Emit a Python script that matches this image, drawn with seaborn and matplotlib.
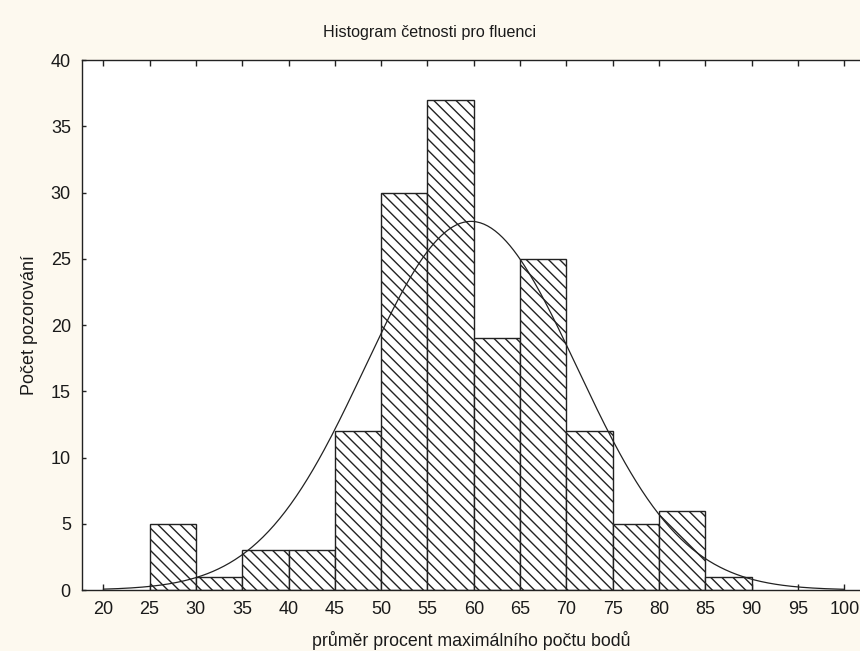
import numpy as np
import pandas as pd
import matplotlib
matplotlib.use("Agg")
import matplotlib.pyplot as plt
import seaborn as sns

# ---- data ----
bin_left = [25, 30, 35, 40, 45, 50, 55, 60, 65, 70, 75, 80, 85]
counts = [5, 1, 3, 3, 12, 30, 37, 19, 25, 12, 5, 6, 1]
bin_width = 5
curve_mean = 59.7      # fitted normal curve
curve_sd = 11.4
x_ticks = list(range(20, 101, 5))
y_ticks = list(range(0, 41, 5))
title = "Histogram četnosti pro fluenci"
x_label = "průměr procent maximálního počtu bodů"
y_label = "Počet pozorování"

sns.set_style("white")
plt.rcParams["font.family"] = ["Liberation Sans", "DejaVu Sans"]

bg = "#fdf9ef"
ink = "#222222"
txt = "#1a1a1a"

fig = plt.figure(figsize=(8.6, 6.51), dpi=100, facecolor=bg)
ax = fig.add_axes([0.0953, 0.0937, 0.9047, 0.8141])
ax.set_facecolor("white")

df = pd.DataFrame({"x": [b + bin_width / 2 for b in bin_left], "w": counts})
sns.histplot(data=df, x="x", weights="w", binwidth=bin_width,
             binrange=(min(bin_left), max(bin_left) + bin_width),
             color="white", edgecolor=ink, linewidth=1.0, alpha=1.0, ax=ax)
plt.rcParams["hatch.linewidth"] = 0.7
plt.rcParams["hatch.color"] = ink
for p in ax.patches:
    p.set_hatch("\\\\\\")
    p.set_facecolor("white")
    p.set_edgecolor(ink)

n_total = sum(counts)
xs = np.linspace(20, 100, 400)
ys = n_total * bin_width / (curve_sd * np.sqrt(2 * np.pi)) * np.exp(-0.5 * ((xs - curve_mean) / curve_sd) ** 2)
sns.lineplot(x=xs, y=ys, color=ink, linewidth=0.9, ax=ax)

ax.set_xlim(17.7, 101.7)
ax.set_ylim(0, 40)
ax.set_xticks(x_ticks)
ax.set_yticks(y_ticks)
ax.tick_params(axis="x", direction="in", top=True, bottom=True, length=4,
               width=1, color=ink, labelsize=13, pad=8, labelcolor=txt)
ax.tick_params(axis="y", direction="in", left=True, length=3,
               width=1, color=ink, labelsize=13, pad=8, labelcolor=txt)
for s in ["left", "top", "bottom"]:
    ax.spines[s].set_color(ink)
    ax.spines[s].set_linewidth(1.0)
ax.spines["right"].set_visible(False)

ax.set_xlabel(x_label, fontsize=12.8, color=txt, labelpad=9)
ax.set_ylabel(y_label, fontsize=13, color=txt, labelpad=9)
fig.text(0.5, 1 - 33 / 651, title, ha="center", va="center", fontsize=11.6, color=txt)

fig.savefig("out.png", dpi=100, facecolor=bg)
